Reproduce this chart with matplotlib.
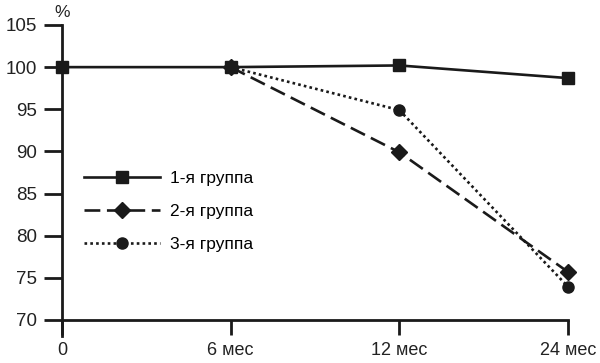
import matplotlib
matplotlib.use("Agg")
import matplotlib.pyplot as plt
import numpy as np

categories = ["0", "6 мес", "12 мес", "24 мес"]
g1 = [100, 100, 100.2, 98.7]
g2 = [None, 100, 89.9, 75.7]
g3 = [None, 100, 94.9, 73.95]
yticks = [70, 75, 80, 85, 90, 95, 100, 105]

plt.rcParams['font.family'] = ['Liberation Sans', 'DejaVu Sans']

fig = plt.figure(figsize=(6, 3.63), dpi=100)
ax = fig.add_axes([62/600, 27/363, 506/600, 311/363])

x = np.arange(len(categories))

def xy(vals):
    xs = [xi for xi, v in zip(x, vals) if v is not None]
    ys = [v for v in vals if v is not None]
    return xs, ys

lw = 1.9
xs, ys = xy(g1)
ax.plot(xs, ys, color='#1a1a1a', lw=lw, marker='s', ms=8, label='1-я группа', clip_on=False, zorder=3)
xs, ys = xy(g2)
ax.plot(xs, ys, color='#1a1a1a', lw=lw, marker='D', ms=8, dashes=(6, 2.5), label='2-я группа', clip_on=False, zorder=3)
xs, ys = xy(g3)
ax.plot(xs, ys, color='#1a1a1a', lw=lw, marker='o', ms=8, dashes=(1, 1.2), label='3-я группа', clip_on=False, zorder=3)

ax.set_xlim(0, 3)
ax.set_ylim(68.1, 105)

for s in ['top', 'right']:
    ax.spines[s].set_visible(False)
ax.spines['left'].set_position(('data', 0))
ax.spines['bottom'].set_position(('data', 70))
ax.spines['left'].set_linewidth(2)
ax.spines['bottom'].set_linewidth(2)
ax.spines['left'].set_color('#1a1a1a')
ax.spines['bottom'].set_color('#1a1a1a')

ax.set_yticks(yticks)
ax.set_yticklabels([str(t) for t in yticks])
ax.set_xticks(x)
ax.set_xticklabels(categories)
ax.tick_params(axis='y', direction='out', length=13, width=2, color='#1a1a1a', labelsize=13.5, pad=5, labelcolor='#222222')
ax.tick_params(axis='x', direction='out', length=11, width=2, color='#1a1a1a', labelsize=13, pad=5, labelcolor='#222222')

ax.text(0, 1.015, '%', transform=ax.get_xaxis_transform(), ha='center', va='bottom', fontsize=12.5, color='#222222')

leg = ax.legend(loc='upper left', bbox_to_anchor=(0.012, 0.581), frameon=False, fontsize=12.5,
                handlelength=4.4, labelspacing=1.03, handletextpad=0.55)

fig.savefig('out.png', dpi=100)
